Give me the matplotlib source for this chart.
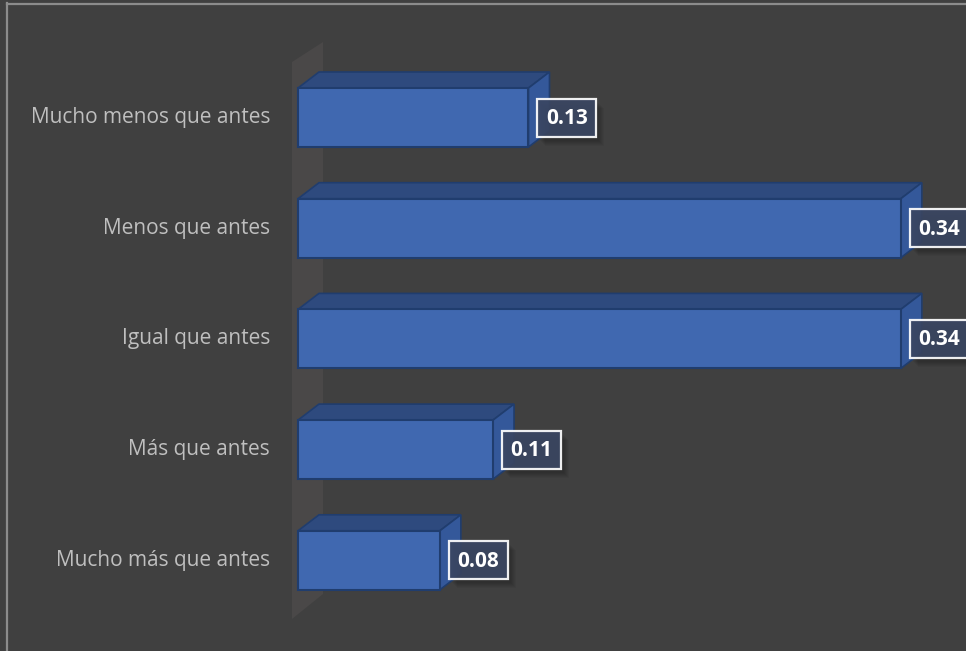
import matplotlib
matplotlib.use("Agg")
import matplotlib.pyplot as plt
from matplotlib.patches import Polygon, Rectangle
from matplotlib.lines import Line2D

categories = ["Mucho menos que antes", "Menos que antes", "Igual que antes",
              "Más que antes", "Mucho más que antes"]
values = [0.13, 0.34, 0.34, 0.11, 0.08]
value_labels = ["0.13", "0.34", "0.34", "0.11", "0.08"]

W, H, DPI = 966, 651, 100
BG = "#404040"
FRONT = "#4068b0"
TOP = "#2e4a7e"
SIDE = "#34589a"
EDGE = "#203d6e"

# pixel geometry of the plot frame
x0_px, px_per_unit = 298.0, 1773.0
y0_px, px_per_cat = 117.5, 110.7

fig = plt.figure(figsize=(W / DPI, H / DPI), dpi=DPI, facecolor=BG)
ax = fig.add_axes([0, 0, 1, 1], facecolor=BG)
ax.set_xlim(-x0_px / px_per_unit, (W - x0_px) / px_per_unit)
ax.set_ylim((H - y0_px) / px_per_cat, -y0_px / px_per_cat)
ax.axis("off")

def px_x(p):
    return p / px_per_unit

def px_y(p):
    return p / px_per_cat

dx, dy = px_x(21), px_y(16)
bh = px_y(59)

# side wall of the 3-D frame
wall = Polygon([(px_x(-6), px_y(62 - y0_px)), (px_x(25), px_y(42 - y0_px)),
                (px_x(25), px_y(594 - y0_px)), (px_x(-6), px_y(619 - y0_px))],
               closed=True, facecolor="#4a4848", edgecolor="none", zorder=1)
ax.add_patch(wall)

for i, (v, lab) in enumerate(zip(values, value_labels)):
    top_y = i - bh / 2
    bot_y = i + bh / 2
    top = Polygon([(0, top_y), (v, top_y), (v + dx, top_y - dy), (dx, top_y - dy)],
                  closed=True, facecolor=TOP, edgecolor=EDGE, lw=1.2, zorder=3)
    side = Polygon([(v, top_y), (v + dx, top_y - dy), (v + dx, bot_y - dy), (v, bot_y)],
                   closed=True, facecolor=SIDE, edgecolor=EDGE, lw=1.2, zorder=3)
    front = Rectangle((0, top_y), v, bh, facecolor=FRONT, edgecolor=EDGE, lw=1.5, zorder=4)
    for p in (top, side, front):
        ax.add_patch(p)

    # value label box with a soft shadow
    bx = v + px_x(9)
    bw, bhh = px_x(59), px_y(38)
    by = i - bhh / 2
    for k in range(1, 7):
        ax.add_patch(Rectangle((bx + px_x(2 + k), by + px_y(3 + k)), bw, bhh,
                               facecolor="black", edgecolor="none", alpha=0.04, zorder=5))
    ax.add_patch(Rectangle((bx, by), bw, bhh, facecolor="#3a4662", edgecolor="white",
                           lw=1.6, alpha=0.92, zorder=6))
    ax.text(bx + bw / 2, i + px_y(1), lab, ha="center", va="center", color="white",
            fontsize=15, fontweight="bold", family="Open Sans", zorder=7)

    ax.text(px_x(270 - x0_px), i, categories[i], ha="right", va="center",
            color="#bfbfbf", fontsize=15, family="Open Sans", zorder=7)

# outer frame edges (left and top)
fig.add_artist(Line2D([7 / W, 7 / W], [0, 1 - 3 / H], transform=fig.transFigure,
                      color="#8c8c8c", lw=1.6))
fig.add_artist(Line2D([7 / W, 1], [1 - 4 / H, 1 - 4 / H], transform=fig.transFigure,
                      color="#8c8c8c", lw=1.6))

fig.savefig("out.png", dpi=DPI, facecolor=BG)
